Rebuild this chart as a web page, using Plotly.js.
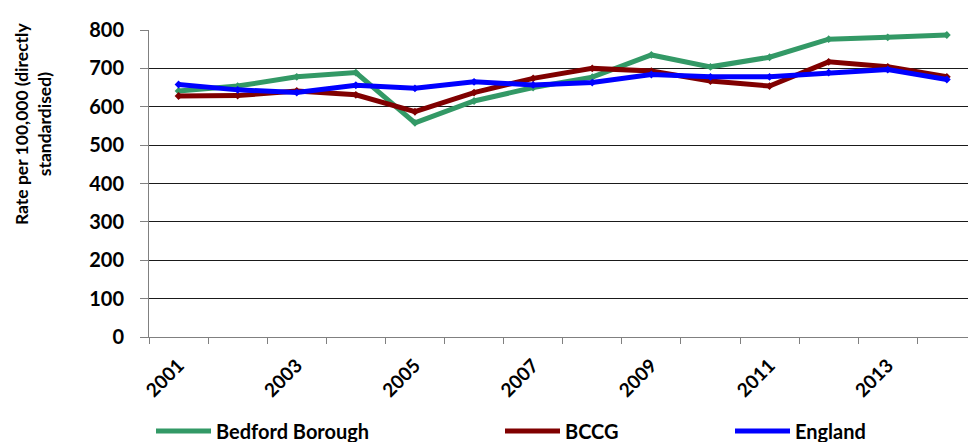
<!DOCTYPE html>
<html>
<head>
<meta charset="utf-8">
<script src="https://cdn.plot.ly/plotly-3.0.1.min.js"></script>
<style>
  html, body { margin: 0; padding: 0; background: #fff; }
  #chart { width: 968px; height: 442px; }
</style>
</head>
<body>
<div id="chart"></div>
<script>
// Years on the x axis
const years = [2001, 2002, 2003, 2004, 2005, 2006, 2007, 2008, 2009, 2010, 2011, 2012, 2013, 2014];
// Directly standardised rates per 100,000
const bedfordBorough = [641, 654, 678, 689, 558, 615, 650, 677, 735, 704, 729, 776, 781, 787];
const bccg = [628, 629, 641, 631, 587, 637, 674, 700, 693, 667, 654, 717, 704, 678];
const england = [658, 644, 637, 656, 648, 665, 657, 663, 684, 678, 678, 689, 697, 671];
// Labelled ticks (every other year)
const tickYears = [2001, 2003, 2005, 2007, 2009, 2011, 2013];

const seriesNames = ['Bedford Borough', 'BCCG', 'England'];
const seriesColors = ['#339966', '#800000', '#0000FF'];
const seriesValues = [bedfordBorough, bccg, england];

const FONT = 'Lato, "Open Sans", "DejaVu Sans", sans-serif';

const traces = seriesValues.map((vals, i) => ({
  type: 'scatter',
  mode: 'lines+markers',
  x: years,
  y: vals,
  name: seriesNames[i],
  line: { color: seriesColors[i], width: 5 },
  marker: { symbol: 'diamond', size: 6, color: seriesColors[i] },
  showlegend: false,
  hoverinfo: 'x+y+name'
}));

// Hand-placed legend row beneath the axis
const legendX = [156, 505, 735];   // pixel start of each line sample
const figW = 968, marginL = 149, plotW = figW - marginL;
const plotTop = 30, plotBottom = 337, plotH = plotBottom - plotTop;
const toPaperX = px => (px - marginL) / plotW;
const toPaperY = py => (plotBottom - py) / plotH;
const legendY = toPaperY(431);
const shapes = [];
const annotations = [];
seriesNames.forEach((name, i) => {
  shapes.push({
    type: 'line', xref: 'paper', yref: 'paper',
    x0: toPaperX(legendX[i]), x1: toPaperX(legendX[i] + 55),
    y0: legendY, y1: legendY,
    line: { color: seriesColors[i], width: 5 }
  });
  annotations.push({
    xref: 'paper', yref: 'paper',
    x: toPaperX(legendX[i] + 58), y: legendY,
    xanchor: 'left', yanchor: 'middle',
    text: '<b>' + name + '</b>',
    showarrow: false,
    font: { family: FONT, size: 20, color: '#000' }
  });
});

// Two-line vertical axis title
annotations.push({
  xref: 'paper', yref: 'paper',
  x: toPaperX(33), y: toPaperY(124),
  xanchor: 'center', yanchor: 'middle',
  textangle: -90,
  text: '<b>Rate per 100,000 (directly<br>standardised)</b>',
  showarrow: false,
  align: 'center',
  font: { family: FONT, size: 17.5, color: '#000' }
});

const layout = {
  width: 968,
  height: 442,
  margin: { l: marginL, r: 0, t: plotTop, b: 442 - plotBottom },
  paper_bgcolor: '#fff',
  plot_bgcolor: '#fff',
  font: { family: FONT, color: '#000' },
  xaxis: {
    type: 'linear',
    range: [2000.5, 2000.5 + plotW / 59.1],
    tickmode: 'array',
    tickvals: tickYears,
    ticktext: tickYears.map(y => '<b>' + y + '</b>'),
    tickangle: -45,
    ticks: '',
    ticklabelstandoff: 9,
    tickfont: { family: FONT, size: 19, color: '#000' },
    showgrid: false,
    zeroline: false,
    showline: true,
    linecolor: '#808080',
    linewidth: 1,
    minor: { tickmode: 'linear', tick0: 2000.5, dtick: 1, ticks: 'outside', ticklen: 6, tickcolor: '#808080', showgrid: false }
  },
  yaxis: {
    range: [0, 800],
    dtick: 100,
    tickmode: 'linear',
    tick0: 0,
    ticks: 'outside',
    ticklen: 8,
    tickcolor: '#808080',
    ticklabelstandoff: 12,
    tickfont: { family: FONT, size: 20, color: '#000' },
    tickprefix: '<b>', ticksuffix: '</b>',
    showgrid: true,
    gridcolor: '#1a1a1a',
    gridwidth: 1,
    zeroline: false,
    showline: true,
    linecolor: '#808080',
    linewidth: 1
  },
  shapes: shapes,
  annotations: annotations,
  showlegend: false
};

Plotly.newPlot('chart', traces, layout, { staticPlot: true, displayModeBar: false });
</script>
</body>
</html>
